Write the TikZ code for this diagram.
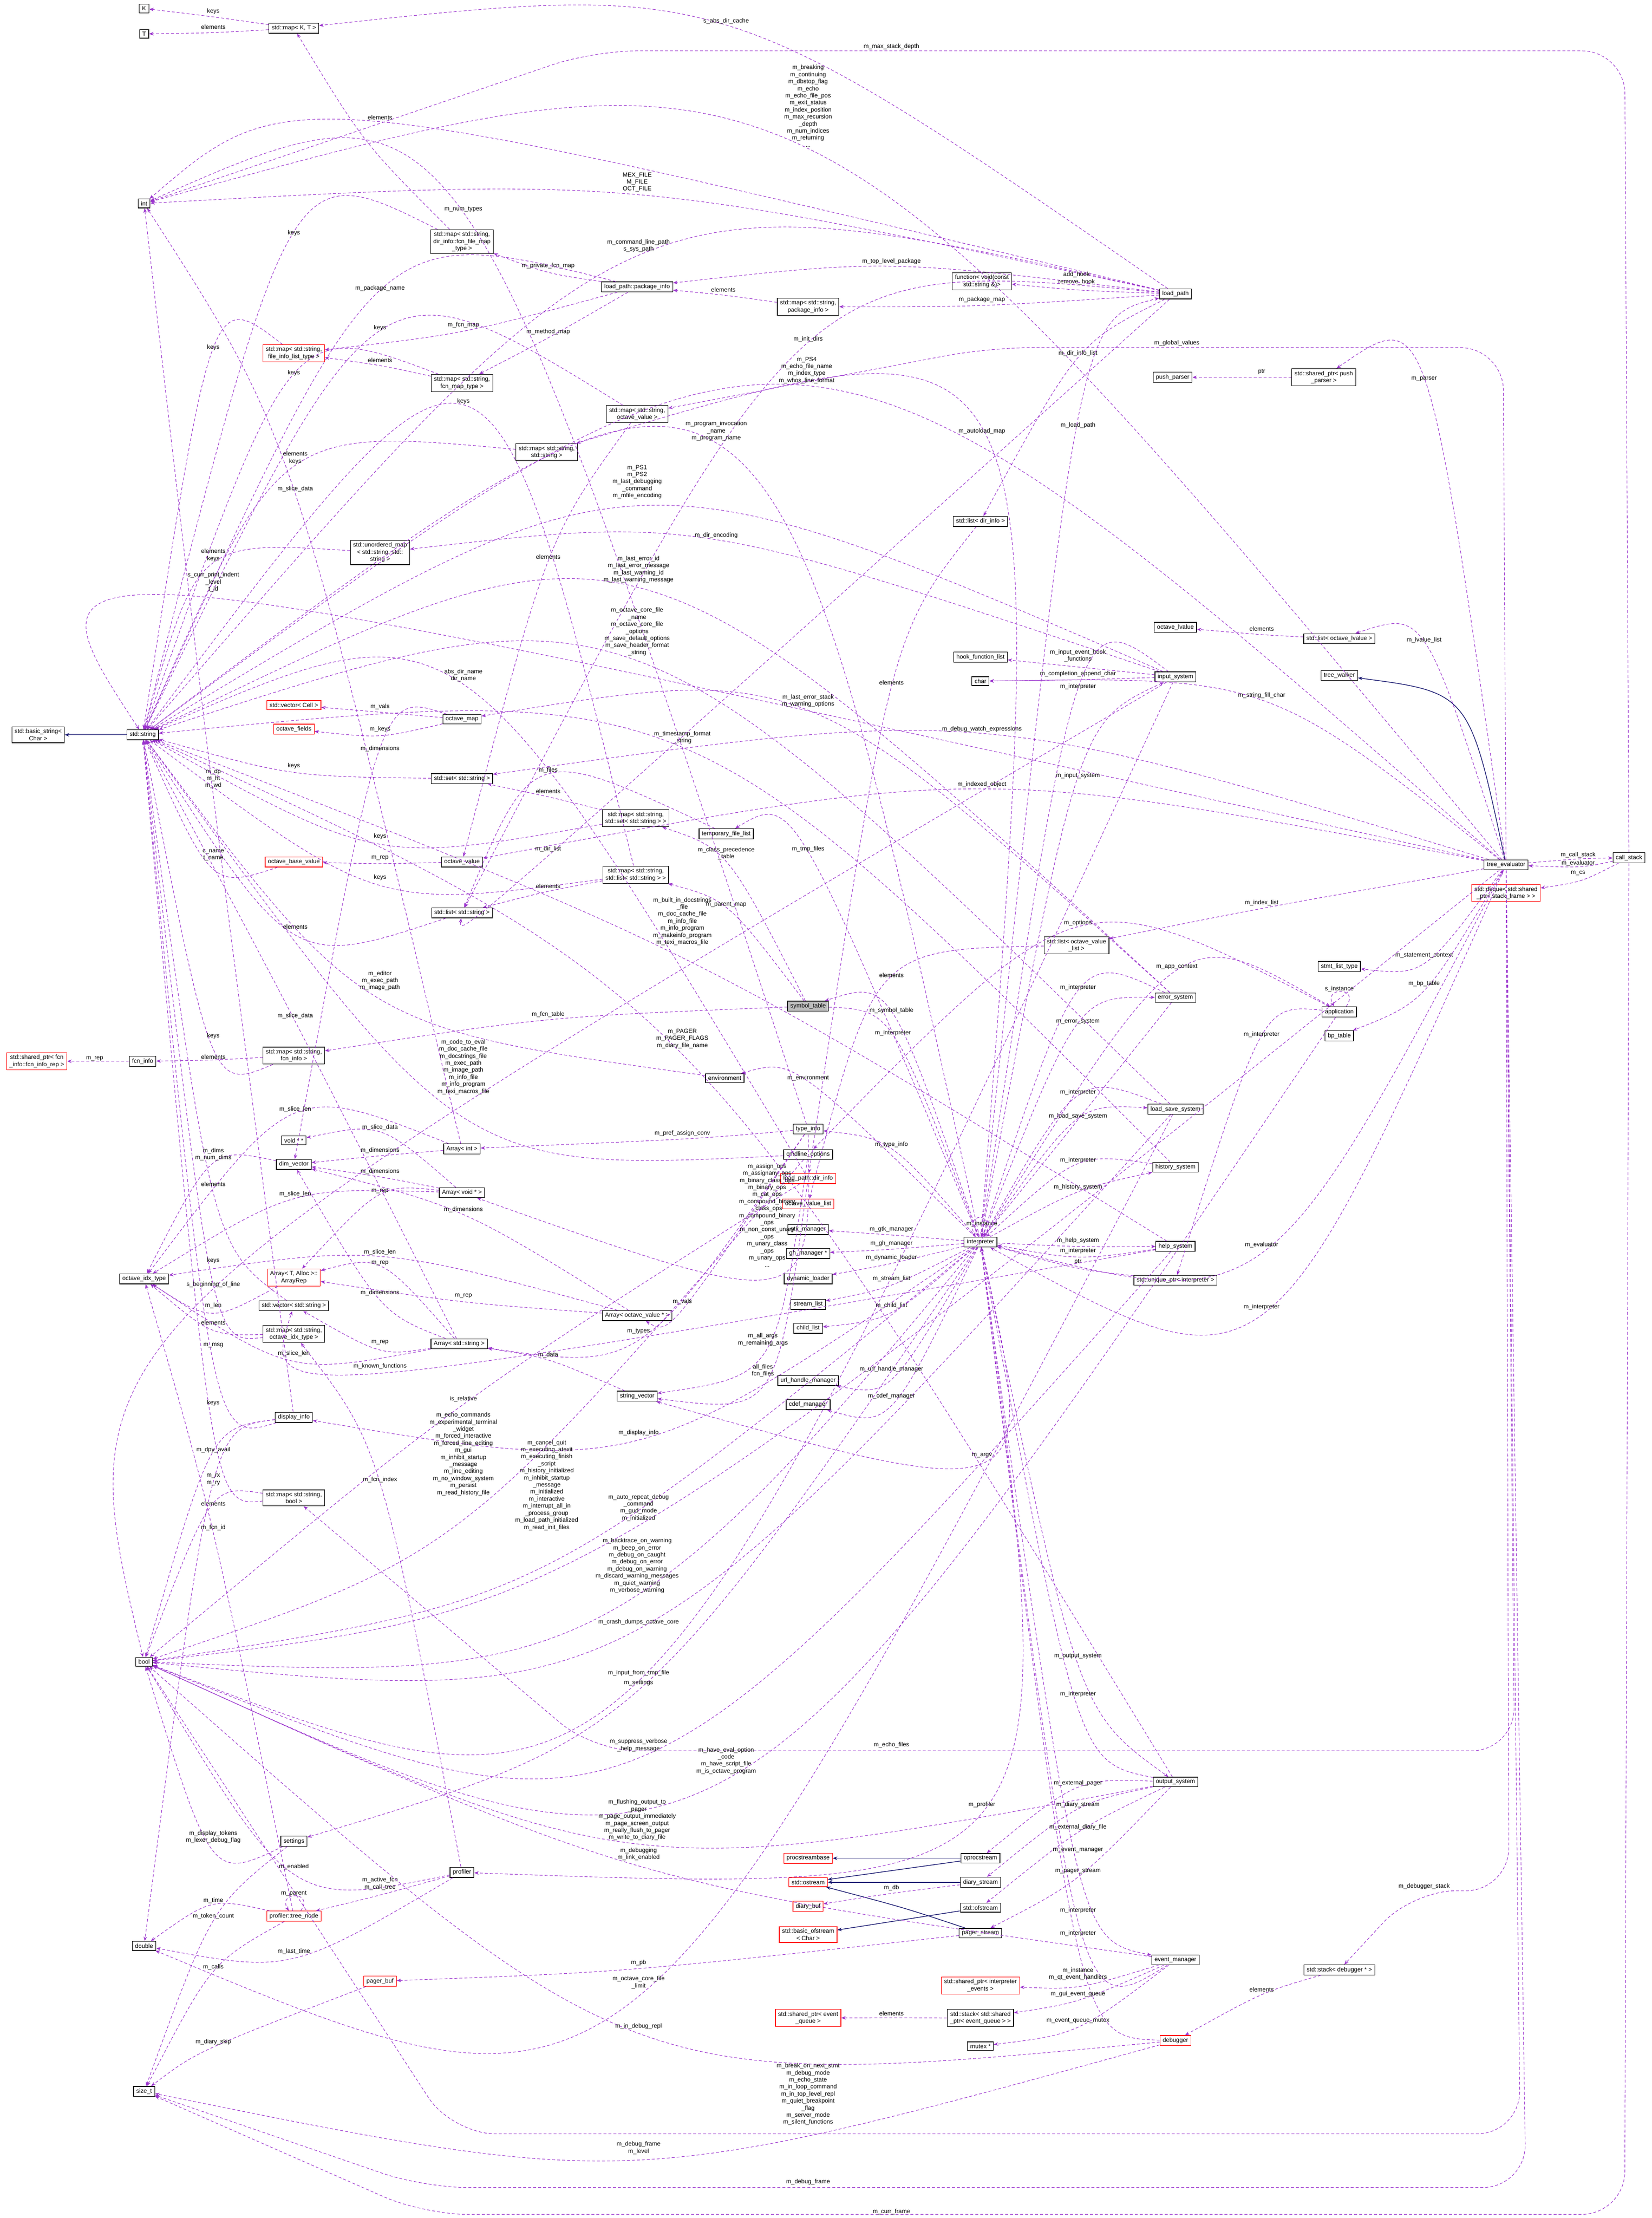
\documentclass[tikz,border=0pt]{standalone}
\usepackage{fontspec}
\setmainfont{Liberation Sans}
\usetikzlibrary{arrows.meta,calc}
\definecolor{edgecol}{RGB}{154,50,205}
\definecolor{inhcol}{RGB}{25,25,112}
\newcommand{\fsz}{\fontsize{3.5}{4.1}\selectfont}
\tikzset{box/.style={draw, line width=0.35pt, fill=white, inner xsep=1.6pt, inner ysep=1.3pt, font=\fsz, align=center}}
\tikzset{redbox/.style={box, draw=red}}
\tikzset{ref/.style={draw=edgecol, line width=0.3pt, dash pattern=on 1.7pt off 1.2pt, -{Stealth[length=2.6pt,width=2pt]}}}
\tikzset{inh/.style={draw=inhcol, line width=0.4pt, -{Stealth[length=2.6pt,width=2pt]}}}
\tikzset{lbl/.style={font=\fsz, align=center, inner sep=0.3pt}}
\begin{document}
\catcode`\_=12
\begin{tikzpicture}[x=0.02888cm,y=-0.02888cm]
\useasboundingbox (0,0) rectangle (1169,1569.6);
% left column
\node [box] (nK)      at (102,6)    {K};
\node [box] (nT)      at (102,24)   {T};
\node [box] (nint)    at (102,144)  {int};
\node [box] (bstr)    at (27,520)   {std::basic_string<\\Char >};
\node [box] (str)     at (101,520)  {std::string};
\node [box] (fcninfo) at (101,751)  {fcn_info};
\node [redbox] (fcnrep) at (26,751) {std::shared_ptr< fcn\\_info::fcn_info_rep >};
\node [box] (idx)     at (102,905)  {octave_idx_type};
\node [box] (bool)    at (102,1176) {bool};
\node [box] (dbl)     at (102,1377) {double};
\node [box] (sizet)   at (102,1480) {size_t};
% second column
\node [box] (mapKT)   at (208,20)   {std::map< K, T >};
\node [redbox] (mapfil) at (208,250) {std::map< std::string,\\file_info_list_type >};
\node [box] (umap)    at (269,391)  {std::unordered_map\\< std::string, std::\\string >};
\node [redbox] (vcell) at (208,499) {std::vector< Cell >};
\node [redbox] (ofields) at (208,516) {octave_fields};
\node [redbox] (obv)  at (208,610)  {octave_base_value};
\node [box] (mapfcninfo) at (208,747) {std::map< std::string,\\fcn_info >};
\node [box] (voidpp)  at (208,807)  {void * *};
\node [box] (dimv)    at (208,824)  {dim_vector};
\node [redbox] (arep) at (208,904)  {Array< T, Alloc >::\\ArrayRep};
\node [box] (vstr)    at (208,924)  {std::vector< std::string >};
\node [box] (mapidx)  at (208,944)  {std::map< std::string,\\octave_idx_type >};
\node [box] (dinfo)   at (208,1003) {display_info};
\node [box] (mapbool) at (208,1060) {std::map< std::string,\\bool >};
\node [box] (settings) at (208,1303) {settings};
\node [redbox] (tnode) at (208,1356) {profiler::tree_node};
\node [redbox] (pbuf) at (269,1402) {pager_buf};
% third column
\node [box] (mapdir)  at (327,171)  {std::map< std::string,\\dir_info::fcn_file_map\\_type >};
\node [box] (mapfcnmap) at (327,271) {std::map< std::string,\\fcn_map_type >};
\node [box] (mapss)   at (387,320)  {std::map< std::string,\\std::string >};
\node [box] (omap)    at (327,509)  {octave_map};
\node [box] (setstr)  at (327,551)  {std::set< std::string >};
\node [box] (oval)    at (327,610)  {octave_value};
\node [box] (liststr) at (327,646)  {std::list< std::string >};
\node [box] (aint)    at (327,813)  {Array< int >};
\node [box] (avoid)   at (327,844)  {Array< void * >};
\node [box] (astr)    at (325,951)  {Array< std::string >};
\node [box] (prof)    at (327,1325) {profiler};
% fourth column
\node [box] (pkg)     at (451,203)  {load_path::package_info};
\node [box] (mapoval) at (451,293)  {std::map< std::string,\\octave_value >};
\node [box] (mapset)  at (450,579)  {std::map< std::string,\\std::set< std::string > >};
\node [box] (maplist) at (450,619)  {std::map< std::string,\\std::list< std::string > >};
\node [box] (aovp)    at (451,931)  {Array< octave_value * >};
\node [box] (svec)    at (451,988)  {string_vector};
\node [box] (tmpf)    at (514,590)  {temporary_file_list};
\node [box] (env)     at (513,763)  {environment};
% fifth column
\node [box] (mappkg)  at (572,217)  {std::map< std::string,\\package_info >};
\node [box, fill=black!25] (symtab) at (572,712) {symbol_table};
\node [box] (tinfo)   at (572,799)  {type_info};
\node [box] (cmdl)    at (572,817)  {cmdline_options};
\node [redbox] (dirinfo) at (572,834) {load_path::dir_info};
\node [redbox] (ovl)  at (572,852)  {octave_value_list};
\node [box] (gtk)     at (572,870)  {gtk_manager};
\node [box] (gh)      at (572,887)  {gh_manager *};
\node [box] (dyn)     at (572,905)  {dynamic_loader};
\node [box] (slist)   at (572,923)  {stream_list};
\node [box] (clist)   at (572,940)  {child_list};
\node [box] (url)     at (572,977)  {url_handle_manager};
\node [box] (cdef)    at (572,994)  {cdef_manager};
\node [redbox] (psb)  at (572,1315) {procstreambase};
\node [redbox] (ostr) at (572,1332) {std::ostream};
\node [redbox] (dbuf) at (572,1349) {diary_buf};
\node [redbox] (bof)  at (572,1369) {std::basic_ofstream\\< Char >};
\node [redbox] (seq)  at (572,1428) {std::shared_ptr< event\\_queue >};
% sixth column
\node [box] (func)    at (695,199)  {function< void(const\\std::string \&)>};
\node [box] (ldi)     at (694,369)  {std::list< dir_info >};
\node [box] (hfl)     at (694,465)  {hook_function_list};
\node [box] (char)    at (694,482)  {char};
\node [box] (lovl)    at (762,669)  {std::list< octave_value\\_list >};
\node [box] (interp)  at (694,879)  {interpreter};
\node [box] (opro)    at (694,1315) {oprocstream};
\node [box] (dstr)    at (694,1332) {diary_stream};
\node [box] (ofs)     at (694,1350) {std::ofstream};
\node [box] (pstr)    at (694,1368) {pager_stream};
\node [redbox] (sie)  at (694,1405) {std::shared_ptr< interpreter\\_events >};
\node [box] (stq)     at (694,1428) {std::stack< std::shared\\_ptr< event_queue > >};
\node [box] (mutex)   at (694,1448) {mutex *};
% seventh column
\node [box] (lp)      at (832,208)  {load_path};
\node [box] (pushp)   at (830,267)  {push_parser};
\node [box] (olval)   at (832,444)  {octave_lvalue};
\node [box] (insys)   at (832,479)  {input_system};
\node [box] (errsys)  at (832,706)  {error_system};
\node [box] (lss)     at (832,785)  {load_save_system};
\node [box] (hist)    at (832,826)  {history_system};
\node [box] (help)    at (832,882)  {help_system};
\node [box] (uptr)    at (832,906)  {std::unique_ptr< interpreter >};
\node [box] (outsys)  at (832,1261) {output_system};
\node [box] (evm)     at (832,1387) {event_manager};
\node [redbox] (dbg)  at (832,1444) {debugger};
% right columns
\node [box] (pushsh)  at (937,267)  {std::shared_ptr< push\\_parser >};
\node [box] (listlval) at (948,452) {std::list< octave_lvalue >};
\node [box] (twalk)   at (948,478)  {tree_walker};
\node [box] (stmt)    at (948,684)  {stmt_list_type};
\node [box] (app)     at (948,716)  {application};
\node [box] (bpt)     at (948,733)  {bp_table};
\node [box] (stdbg)   at (948,1394) {std::stack< debugger * >};
\node [box] (tev)     at (1066,612) {tree_evaluator};
\node [redbox] (deque) at (1066,632) {std::deque< std::shared\\_ptr< stack_frame > >};
\node [box] (cstack)  at (1153,607) {call_stack};
%
\draw [inh] (str) -- (bstr);
\draw [inh] (opro) -- (psb);
\draw [inh] (opro) -- (ostr);
\draw [inh] (dstr) -- (ostr);
\draw [inh] (pstr) .. controls (640,1350) .. (ostr);
\draw [inh] (ofs) -- (bof);
\draw [inh] (tev) .. controls (1040,490) .. (twalk);
%
\draw [ref] ([xshift=3pt]interp.north) .. controls +(8,-18) and +(-8,-18) .. ([xshift=-3pt]interp.north);
\node [lbl] at (695,866) {m_instance};
\draw [ref] ([xshift=4pt]app.north) .. controls +(10,-14) and +(-8,-14) .. ([xshift=-3pt]app.north);
\node [lbl] at (948,700) {s_instance};
\draw [ref] ([xshift=4pt]tnode.north) .. controls +(10,-14) and +(-8,-14) .. ([xshift=-3pt]tnode.north);
\node [lbl] at (208,1340) {m_parent};
% long connectors round the outside
\foreach \s/\t/\ax/\ay/\bx/\by/\x/\y/\l in {
  cstack/nint/1150/36/420/36/631/33/m_max_stack_depth,
  tev/mapoval/1064/246/700/246/833/243/m_global_values,
  tev/stdbg/1068/1338/1000/1338/1008/1335/m_debugger_stack,
  tev/mapbool/1072/1239/420/1239/631/1235/m_echo_files,
  tev/bool/1076/1510/320/1510/572/1482/{m_break_on_next_stmt\\m_debug_mode\\m_echo_state\\m_in_loop_command\\m_in_top_level_repl\\m_quiet_breakpoint\\_flag\\m_server_mode\\m_silent_functions},
  tev/sizet/1080/1548/300/1548/572/1544/m_debug_frame,
  cstack/sizet/1150/1567/300/1567/631/1565/m_curr_frame%
}{
  \draw [ref, rounded corners=25pt] (\s) -- (\ax,\ay) -- (\bx,\by) -- (\t);
  \node [lbl] at (\x,\y) {\l};
}
%
\foreach \s/\t/\x/\y/\d/\l in {
  mapKT/nK/151/8/4/keys, mapKT/nT/151/19/4/elements,
  lp/mapKT/514/15/4/s_abs_dir_cache,
  tev/nint/572/75/31/{m_breaking\\m_continuing\\m_dbstop_flag\\m_echo\\m_echo_file_pos\\m_exit_status\\m_index_position\\m_max_recursion\\_depth\\m_num_indices\\m_returning\\...},
  lp/nint/269/83/4/elements,
  lp/nint/451/129/9/{MEX_FILE\\M_FILE\\OCT_FILE},
  tinfo/nint/328/148/4/m_num_types,
  mapdir/str/208/165/4/keys, mapdir/mapKT/260/100/0/{},
  lp/str/452/174/8/{m_command_line_path\\s_sys_path},
  pkg/mapdir/388/188/4/m_private_fcn_map, pkg/str/269/204/4/m_package_name,
  mappkg/pkg/512/205/4/elements, lp/pkg/631/185/4/m_top_level_package,
  lp/func/762/197/8/{add_hook\\remove_hook}, lp/mappkg/695/212/4/m_package_map,
  pkg/mapfil/328/230/4/m_fcn_map, pkg/mapfcnmap/388/235/4/m_method_map,
  mapoval/str/269/232/4/keys, mapfil/str/151/246/4/keys,
  mapfcnmap/mapfil/269/255/4/elements, mapfcnmap/str/208/264/4/keys,
  maplist/str/328/284/4/keys, mapss/str/209/324/8/{elements\\keys},
  lp/liststr/572/240/4/m_init_dirs, lp/ldi/763/250/4/m_dir_info_list,
  pushsh/pushp/893/263/4/ptr,
  tev/pushsh/1008/268/4/m_parser,
  tev/str/571/262/12/{m_PS4\\m_echo_file_name\\m_index_type\\m_whos_line_format},
  interp/mapss/695/305/4/m_autoload_map,
  interp/str/507/305/10/{m_program_invocation\\_name\\m_program_name},
  interp/lp/763/301/4/m_load_path,
  insys/str/451/341/18/{m_PS1\\m_PS2\\m_last_debugging\\_command\\m_mfile_encoding},
  aint/nint/209/346/4/m_slice_data,
  insys/umap/507/379/4/m_dir_encoding, umap/str/151/393/8/{elements\\keys},
  tev/str/151/412/12/{s_curr_print_indent\\_level\\t_id},
  mapoval/oval/388/394/4/elements,
  errsys/str/452/403/14/{m_last_error_id\\m_last_error_message\\m_last_warning_id\\m_last_warning_message},
  lss/str/451/447/22/{m_octave_core_file\\_name\\m_octave_core_file\\_options\\m_save_default_options\\m_save_header_format\\_string},
  insys/hfl/763/464/8/{m_input_event_hook\\_functions},
  insys/char/763/477/4/m_completion_append_char, insys/interp/763/486/4/m_interpreter,
  listlval/olval/893/445/4/elements, tev/listlval/1008/453/4/m_lvalue_list,
  tev/char/893/492/4/m_string_fill_char,
  dirinfo/str/328/478/8/{abs_dir_name\\dir_name}, ldi/dirinfo/631/483/4/elements,
  errsys/omap/572/496/8/{m_last_error_stack\\m_warning_options},
  omap/vcell/269/500/4/m_vals, omap/ofields/269/516/4/m_keys,
  hist/str/483/522/8/{m_timestamp_format\\_string},
  tev/setstr/695/516/4/m_debug_watch_expressions, omap/dimv/269/530/4/m_dimensions,
  setstr/str/208/542/4/keys, dinfo/nint/151/551/12/{m_dp\\m_ht\\m_wd},
  tmpf/liststr/388/545/4/m_files, interp/insys/763/549/4/m_input_system,
  tev/oval/695/555/4/m_indexed_object, mapset/setstr/388/560/4/elements,
  mapset/str/269/592/4/keys, interp/tmpf/572/601/4/m_tmp_files,
  symtab/mapset/514/604/8/{m_class_precedence\\_table},
  oval/obv/269/607/4/m_rep, obv/str/151/605/8/{c_name\\t_name},
  maplist/str/269/621/4/keys, maplist/liststr/388/627/4/elements,
  lp/liststr/388/601/4/m_dir_list, symtab/maplist/514/640/4/m_parent_map,
  help/str/483/652/26/{m_built_in_docstrings\\_file\\m_doc_cache_file\\m_info_file\\m_info_program\\m_makeinfo_program\\m_texi_macros_file},
  liststr/str/209/656/4/elements, app/cmdl/763/653/4/m_options,
  tev/lovl/893/639/4/m_index_list, lovl/ovl/631/690/4/elements,
  interp/app/833/684/4/m_app_context, app/uptr/893/732/4/m_interpreter,
  tev/stmt/1008/676/4/m_statement_context, tev/bpt/1008/696/4/m_bp_table,
  tev/cstack/1117/605/3/m_call_stack, cstack/tev/1117/611/2/m_evaluator,
  cstack/deque/1117/618/5/m_cs,
  env/str/269/694/12/{m_editor\\m_exec_path\\m_image_path},
  interp/symtab/631/715/4/m_symbol_table, symtab/interp/632/731/4/m_interpreter,
  errsys/interp/763/699/4/m_interpreter, interp/errsys/763/723/4/m_error_system,
  symtab/mapfcninfo/388/718/4/m_fcn_table, astr/str/209/719/4/m_slice_data,
  mapfcninfo/str/151/733/4/keys, mapfcninfo/fcninfo/151/748/2/elements,
  fcninfo/fcnrep/67/749/2/m_rep,
  outsys/str/483/735/12/{m_PAGER\\m_PAGER_FLAGS\\m_diary_file_name},
  cmdl/str/328/755/34/{m_code_to_eval\\m_doc_cache_file\\m_docstrings_file\\m_exec_path\\m_image_path\\m_info_file\\m_info_program\\m_texi_macros_file},
  interp/env/572/763/4/m_environment, interp/lss/763/790/4/m_load_save_system,
  lss/interp/763/773/4/m_interpreter, aint/idx/209/785/4/m_slice_len,
  avoid/voidpp/269/798/4/m_slice_data, tinfo/aint/483/802/4/m_pref_assign_conv,
  interp/tinfo/631/810/4/m_type_info, aint/dimv/269/814/4/m_dimensions,
  dimv/idx/151/817/8/{m_dims\\m_num_dims}, hist/interp/763/821/4/m_interpreter,
  avoid/dimv/269/829/4/m_dimensions, interp/hist/763/840/4/m_history_system,
  avoid/arep/269/843/4/m_rep, avoid/idx/209/845/4/m_slice_len,
  vstr/str/151/838/4/elements, aovp/dimv/328/856/4/m_dimensions,
  tinfo/avoid/543/860/44/{m_assign_ops\\m_assignany_ops\\m_binary_class_ops\\m_binary_ops\\m_cat_ops\\m_compound_binary\\_class_ops\\m_compound_binary\\_ops\\m_non_const_unary\\_ops\\m_unary_class\\_ops\\m_unary_ops\\...},
  interp/gtk/631/870/4/m_gtk_manager, interp/gh/631/880/4/m_gh_manager,
  interp/dyn/631/890/4/m_dynamic_loader, interp/help/763/878/4/m_help_system,
  help/interp/763/885/4/m_interpreter, uptr/interp/763/893/4/ptr,
  interp/slist/631/905/4/m_stream_list, interp/clist/631/924/4/m_child_list,
  aovp/arep/328/917/4/m_rep, aovp/idx/269/886/4/m_slice_len,
  astr/arep/269/894/4/m_rep, astr/dimv/269/915/4/m_dimensions,
  arep/idx/151/924/4/m_len, mapidx/str/151/892/4/keys,
  insys/bool/151/909/4/s_beginning_of_line, mapidx/idx/151/936/4/elements,
  dinfo/str/151/952/4/m_msg, astr/idx/208/958/4/m_slice_len,
  astr/vstr/269/950/4/m_rep,
  tinfo/aovp/483/921/4/m_vals, tinfo/astr/452/942/4/m_types, svec/astr/388/959/4/m_data,
  help/vstr/269/967/4/m_known_functions,
  cmdl/svec/540/948/8/{m_all_args\\m_remaining_args},
  dirinfo/svec/540/970/8/{all_files\\fcn_files},
  dirinfo/bool/328/990/4/is_relative, mapbool/str/151/993/4/keys,
  interp/dinfo/452/1014/4/m_display_info, dinfo/bool/151/1026/4/m_dpy_avail,
  dinfo/dbl/151/1047/8/{m_rx\\m_ry},
  cmdl/bool/328/1029/46/{m_echo_commands\\m_experimental_terminal\\_widget\\m_forced_interactive\\m_forced_line_editing\\m_gui\\m_inhibit_startup\\_message\\m_line_editing\\m_no_window_system\\m_persist\\m_read_history_file},
  interp/bool/387/1051/56/{m_cancel_quit\\m_executing_atexit\\m_executing_finish\\_script\\m_history_initialized\\m_inhibit_startup\\_message\\m_initialized\\m_interactive\\m_interrupt_all_in\\_process_group\\m_load_path_initialized\\m_read_init_files},
  prof/mapidx/269/1047/4/m_fcn_index, mapbool/bool/151/1064/4/elements,
  tnode/idx/151/1081/4/m_fcn_id,
  tev/bool/452/1067/12/{m_auto_repeat_debug\\_command\\m_gud_mode\\m_initialized},
  errsys/bool/451/1108/20/{m_backtrace_on_warning\\m_beep_on_error\\m_debug_on_caught\\m_debug_on_error\\m_debug_on_warning\\m_discard_warning_messages\\m_quiet_warning\\m_verbose_warning},
  lss/bool/452/1148/4/m_crash_dumps_octave_core, insys/bool/452/1184/4/m_input_from_tmp_file,
  interp/settings/452/1191/4/m_settings,
  help/bool/452/1235/8/{m_suppress_verbose\\_help_message},
  app/bool/514/1246/12/{m_have_eval_option\\_code\\m_have_script_file\\m_is_octave_program},
  outsys/bool/451/1288/16/{m_flushing_output_to\\_pager\\m_page_output_immediately\\m_page_screen_output\\m_really_flush_to_pager\\m_write_to_diary_file},
  evm/bool/452/1312/8/{m_debugging\\m_link_enabled},
  interp/outsys/763/1172/4/m_output_system, outsys/interp/763/1199/4/m_interpreter,
  outsys/opro/763/1262/4/m_external_pager, interp/prof/695/1277/4/m_profiler,
  outsys/dstr/763/1277/4/m_diary_stream, outsys/ofs/763/1293/4/m_external_diary_file,
  interp/evm/763/1309/4/m_event_manager, outsys/pstr/763/1324/4/m_pager_stream,
  dstr/dbuf/631/1336/4/m_db, evm/interp/763/1352/4/m_interpreter,
  dbg/interp/763/1368/4/m_interpreter,
  settings/bool/151/1300/8/{m_display_tokens\\m_lexer_debug_flag},
  prof/bool/208/1321/4/m_enabled, prof/tnode/269/1333/8/{m_active_fcn\\m_call_tree},
  tnode/dbl/151/1345/4/m_time, settings/sizet/151/1356/4/m_token_count,
  prof/dbl/208/1381/4/m_last_time, tnode/sizet/151/1392/4/m_calls,
  pstr/pbuf/452/1389/4/m_pb, lss/dbl/452/1403/8/{m_octave_core_file\\_limit},
  evm/sie/763/1397/8/{m_instance\\m_qt_event_handlers}, evm/stq/763/1411/4/m_gui_event_queue,
  stq/seq/631/1425/3/elements, evm/mutex/763/1430/4/m_event_queue_mutex,
  stdbg/dbg/893/1408/4/elements,
  dbg/bool/452/1434/4/m_in_debug_repl, pbuf/sizet/151/1445/4/m_diary_skip,
  dbg/sizet/452/1520/8/{m_debug_frame\\m_level},
  interp/svec/695/1030/4/m_argv,
  interp/url/631/969/4/m_url_handle_manager, interp/cdef/631/988/4/m_cdef_manager,
  interp/tev/893/881/4/m_evaluator, tev/interp/893/925/4/m_interpreter%
}{
  \draw [ref] (\s) .. controls ($1.3333*(\x,\y+\d)-0.16667*(\s)-0.16667*(\t)$) .. (\t);
  \node [lbl] at (\x,\y) {\l};
}
\end{tikzpicture}
\end{document}
